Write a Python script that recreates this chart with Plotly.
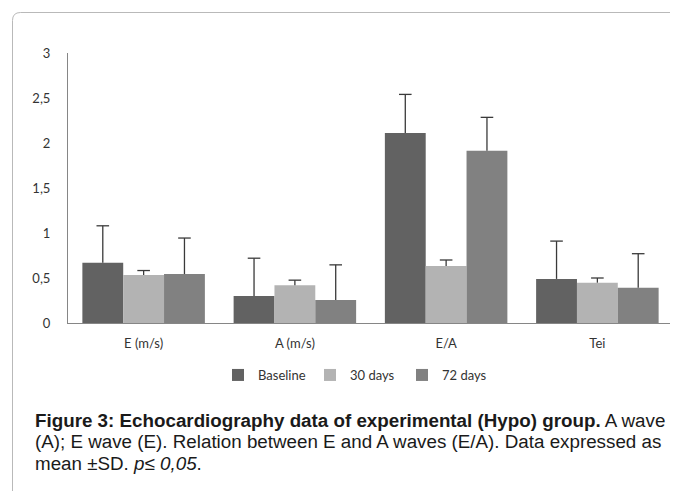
import plotly.graph_objects as go

categories = ["E (m/s)", "A (m/s)", "E/A", "Tei"]
series_names = ["Baseline", "30 days", "72 days"]
baseline = [0.67, 0.30, 2.11, 0.49]
days30 = [0.533, 0.42, 0.633, 0.448]
days72 = [0.544, 0.256, 1.915, 0.392]
baseline_sd = [0.41, 0.42, 0.43, 0.42]
days30_sd = [0.05, 0.056, 0.067, 0.052]
days72_sd = [0.40, 0.39, 0.37, 0.378]
y_tick_vals = [0, 0.5, 1, 1.5, 2, 2.5, 3]
y_tick_text = ["0", "0,5", "1", "1,5", "2", "2,5", "3"]

colors = ["#626262", "#b3b3b3", "#818181"]
values = [baseline, days30, days72]
sds = [baseline_sd, days30_sd, days72_sd]

# page body has an 8px margin; work in window pixel coordinates
OFF = 8
W, H = 678, 491
PLOT_L, PLOT_R, PLOT_T, PLOT_B = 68, 673, 53, 323  # window px
L = PLOT_L - OFF
T = PLOT_T - OFF
R = W - (PLOT_R - OFF)
B = H - (PLOT_B - OFF)
PW, PH = PLOT_R - PLOT_L, PLOT_B - PLOT_T


def px(x):
    return (x - PLOT_L) / PW


def py(y):
    return (PLOT_B - y) / PH


fig = go.Figure()
for name, vals, sd, col in zip(series_names, values, sds, colors):
    fig.add_trace(go.Bar(
        x=categories, y=vals, name=name, marker=dict(color=col, line=dict(width=0)),
        error_y=dict(type="data", array=sd, arrayminus=[0] * len(sd), symmetric=False,
                     color="#3a3a3a", thickness=1.3, width=0),
        offsetgroup=name,
    ))
for name, vals, sd in zip(series_names, values, sds):
    fig.add_trace(go.Scatter(
        x=categories, y=[v + s for v, s in zip(vals, sd)], mode="markers",
        marker=dict(symbol="line-ew", size=9, line=dict(color="#3a3a3a", width=1.3)),
        showlegend=False, hoverinfo="skip", offsetgroup=name,
    ))

# rounded frame around figure
x0, y0 = px(12.5), py(12.5)
r = 8
x0r, y0r = px(12.5 + r), py(12.5 + r)
x1, y1 = px(720), py(540)
path = (f"M {x0},{y1} L {x0},{y0r} Q {x0},{y0} {x0r},{y0} L {x1},{y0}")
fig.add_shape(type="path", path=path, xref="paper", yref="paper",
              line=dict(color="#b9b9b9", width=1))

cap_font = dict(family="Liberation Sans, Arial, sans-serif", size=18.8, color="#1a1a1a")
lines = [
    "<b>Figure 3: Echocardiography data of experimental (Hypo) group.</b> A wave",
    "(A); E wave (E). Relation between E and A waves (E/A). Data expressed as",
    "mean ±SD. <i>p≤ 0,05</i>.",
]
for txt, yy in zip(lines, [420, 441.5, 463]):
    fig.add_annotation(text=txt, xref="paper", yref="paper", x=px(33), y=py(yy),
                       xanchor="left", yanchor="middle", showarrow=False, font=cap_font)

fig.update_layout(
    width=W, height=H, margin=dict(l=L, r=R, t=T, b=B),
    paper_bgcolor="white", plot_bgcolor="white",
    barmode="group", bargap=0.19, bargroupgap=0, scattermode="group", scattergap=0.19,
    font=dict(family="Lato, Carlito, sans-serif", size=13, color="#333333"),
    legend=dict(orientation="h", x=px(356), xanchor="center", y=py(375), yanchor="middle",
                font=dict(size=13, color="#333333"), itemwidth=30, traceorder="normal",
                entrywidth=47, entrywidthmode="pixels"),
    showlegend=True,
)
fig.update_yaxes(range=[0, 3], tickvals=y_tick_vals, ticktext=y_tick_text,
                 showline=True, linecolor="#868686", linewidth=1, showgrid=False,
                 zeroline=False, ticks="", ticklabelstandoff=14)
fig.update_xaxes(showline=True, linecolor="#868686", linewidth=1, showgrid=False,
                 zeroline=False, ticks="", ticklabelstandoff=8)

fig.write_html("out.html")
